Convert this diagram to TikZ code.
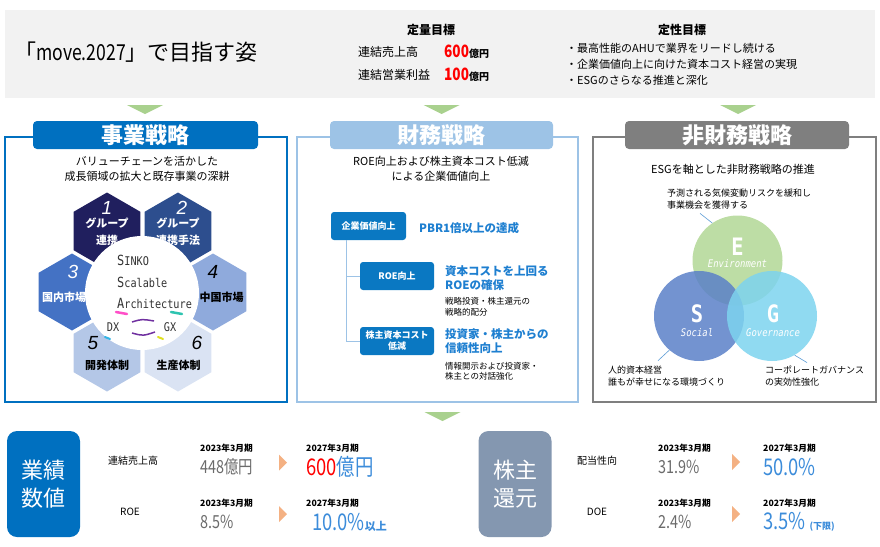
\documentclass[tikz,border=0pt]{standalone}
\usepackage{fontspec}
\setmainfont{Noto Sans CJK JP}
\newfontfamily\numfont[FakeStretch=0.8]{Noto Sans CJK JP}
\newfontfamily\sinkofont[FakeStretch=0.85]{DejaVu Sans Mono}
\newfontfamily\hexnumfont{Liberation Sans}
\usetikzlibrary{positioning,calc,shapes.geometric}

\definecolor{bannergray}{HTML}{F2F2F2}
\definecolor{arrowgreen}{HTML}{A9D18E}
\definecolor{bizblue}{HTML}{0070C0}
\definecolor{finblue}{HTML}{9DC3E6}
\definecolor{nonfingray}{HTML}{7F7F7F}
\definecolor{boxblue}{HTML}{0A78C2}
\definecolor{textblue}{HTML}{1E7FD0}
\definecolor{numblue}{HTML}{3C8CDA}
\definecolor{numgray}{HTML}{6B6B6B}
\definecolor{retgray}{HTML}{8497B0}
\definecolor{tiporange}{HTML}{F4B183}
\definecolor{hexone}{HTML}{201F5E}
\definecolor{hextwo}{HTML}{2D4E8E}
\definecolor{hexthree}{HTML}{4472C4}
\definecolor{hexfour}{HTML}{8FAADC}
\definecolor{hexfive}{HTML}{B4C7E7}
\definecolor{hexsix}{HTML}{DAE3F3}
\definecolor{egreen}{HTML}{B2D795}
\definecolor{sblue}{HTML}{5A80C8}
\definecolor{gcyan}{HTML}{7DD3EE}
\definecolor{leaderblue}{HTML}{5B9BD5}
\definecolor{sinkotext}{HTML}{333333}
\definecolor{dxpink}{HTML}{FF4FC8}
\definecolor{gxteal}{HTML}{2EC4B0}
\definecolor{sacpurple}{HTML}{7030A0}
\definecolor{dxcyan}{HTML}{33B5E5}
\definecolor{gxyellow}{HTML}{E0E020}

\newcommand{\fsize}[2]{\fontsize{#1}{#2}\selectfont}
\newcommand{\sinkoinit}[1]{{\fsize{14}{21.5}#1}}

\begin{document}
\begin{tikzpicture}[x=1pt, y=-1pt,
	every node/.style={inner sep=0pt},
	panelframe/.style={line width=2.5pt},
	tabbox/.style={rounded corners=4pt, minimum height=28pt, text=white, font=\fsize{22}{22}\bfseries},
	hexcell/.style={regular polygon, regular polygon sides=6, shape border rotate=30, minimum size=77pt},
	hexlbl/.style={align=center, font=\fsize{11}{17}\bfseries},
	hexnum/.style={font=\hexnumfont\itshape\fsize{19}{19}},
	subtxt/.style={align=center, font=\fsize{11}{15}},
	valbox/.style={fill=boxblue, rounded corners=3pt, minimum width=75pt, minimum height=28pt, text=white, align=center, font=\fsize{9}{11}\bfseries},
	bluehead/.style={anchor=west, align=left, text=textblue, font=\fsize{11.5}{14}\bfseries},
	smallnote/.style={anchor=west, align=left, font=\fsize{8.5}{10.5}},
	branch/.style={finblue, line width=1pt},
	esg/.style={circle, minimum size=90pt, fill opacity=0.85},
	esgletter/.style={text=white, font=\sinkofont\bfseries\fsize{24}{24}},
	esgword/.style={text=white, font=\sinkofont\itshape\fsize{10.5}{10.5}},
	esgnote/.style={anchor=west, align=left, font=\fsize{9}{12}},
	leader/.style={leaderblue, line width=0.6pt},
	kpibox/.style={rounded corners=10pt, minimum width=73pt, minimum height=106pt, text=white, align=center, font=\fsize{22}{28}},
	rowlbl/.style={font=\fsize{10}{10}},
	yearlbl/.style={anchor=west, font=\fsize{8.7}{9}\bfseries},
	oldval/.style={anchor=west, text=numgray, font=\numfont\fsize{18}{18}},
	newval/.style={anchor=west, text=numblue, font=\numfont\fsize{23}{23}}]

	\useasboundingbox (0,0) rectangle (880,546);

	\fill[bannergray] (5,10) rectangle (875,98);
	\node[anchor=west, font=\fsize{22}{22}] (title) at (14,52) {「{\numfont move.2027}」で目指す姿};
	\node[font=\fsize{12}{12}\bfseries] (quant) at (431,30) {定量目標};
	\node[anchor=west, font=\fsize{12}{12}] (qsales) at (358,52) {連結売上高};
	\node[anchor=west, font=\fsize{12}{12}] (qprofit) at (358,75) {連結営業利益};
	\node[anchor=west] (qsalesv) at (444,52) {{\numfont\bfseries\fsize{17}{17}\color{red}600}{\fsize{10}{10}\bfseries 億円}};
	\node[anchor=west] (qprofitv) at (444,75) {{\numfont\bfseries\fsize{17}{17}\color{red}100}{\fsize{10}{10}\bfseries 億円}};
	\node[font=\fsize{12}{12}\bfseries] (qual) at (682,30) {定性目標};
	\node[anchor=west, font=\fsize{11}{11}] (qual1) at (566,48) {・最高性能のAHUで業界をリードし続ける};
	\node[anchor=west, font=\fsize{11}{11}] (qual2) at (566,64) {・企業価値向上に向けた資本コスト経営の実現};
	\node[anchor=west, font=\fsize{11}{11}] (qual3) at (566,80) {・ESGのさらなる推進と深化};

	\foreach \x/\y in {145/105, 441.5/105, 738/105, 442.5/412}
		\fill[arrowgreen] (\x-18,\y) -- (\x+18,\y) -- (\x,\y+9) -- cycle;

	\draw[panelframe, bizblue] (5,137) rectangle (287,402);
	\draw[panelframe, finblue] (297,137) rectangle (578,402);
	\draw[panelframe, nonfingray] (593,137) rectangle (876,402);
	\node[tabbox, fill=bizblue, minimum width=225pt] (biz) at (145.5,135) {事業戦略};
	\node[tabbox, fill=finblue, minimum width=223pt] (fin) at (441.5,135) {財務戦略};
	\node[tabbox, fill=nonfingray, minimum width=224pt] (nonfin) at (737,135) {非財務戦略};

	\node[subtxt] (bizsub) at (147,168.5) {バリューチェーンを活かした\\成長領域の拡大と既存事業の深耕};
	\node[hexcell, fill=hexone] (h1) at (107,231) {};
	\node[hexcell, fill=hextwo] (h2) at (178,231) {};
	\node[hexcell, fill=hexthree] (h3) at (72,292) {};
	\node[hexcell, fill=hexfour] (h4) at (213,292) {};
	\node[hexcell, fill=hexfive] (h5) at (107,353) {};
	\node[hexcell, fill=hexsix] (h6) at (178,353) {};
	\node[hexnum, text=white] (h1n) at (107,208) {1};
	\node[hexnum, text=white] (h2n) at (182,208) {2};
	\node[hexnum, text=white] (h3n) at (73,272) {3};
	\node[hexnum] (h4n) at (213,272) {4};
	\node[hexnum] (h5n) at (93,343) {5};
	\node[hexnum] (h6n) at (197,343) {6};
	\node[hexlbl, text=white] (h1t) at (107,231.5) {グループ\\連携};
	\node[hexlbl, text=white] (h2t) at (178,231.5) {グループ\\連携手法};
	\node[hexlbl, text=white, anchor=west] (h3t) at (42,297) {国内市場};
	\node[hexlbl] (h4t) at (221.5,297) {中国市場};
	\node[hexlbl] (h5t) at (107,365) {開発体制};
	\node[hexlbl] (h6t) at (178.5,365) {生産体制};
	\node[circle, fill=white, minimum size=114pt] (sac) at (142,293) {};
	\node[anchor=west, align=left, text=sinkotext, font=\sinkofont\fsize{12}{21.5}] (sinko) at (117,282)
		{\sinkoinit{S}INKO\\\sinkoinit{S}calable\\\sinkoinit{A}rchitecture};
	\node[text=sinkotext, font=\sinkofont\fsize{12}{12}] (dx) at (113,327) {DX};
	\node[text=sinkotext, font=\sinkofont\fsize{12}{12}] (gx) at (170,327) {GX};
	\draw[dxpink, line width=2.5pt, line cap=round] (116,312) -- (127,314);
	\draw[gxteal, line width=2.5pt, line cap=round] (171,312) -- (182,314);
	\draw[sacpurple, line width=1.5pt] (132,322) .. controls (142,319) .. (154,321);
	\draw[sacpurple, line width=1.5pt] (132,333) .. controls (143,336) .. (155,332);
	\draw[dxcyan, line width=2pt, line cap=round] (105,337) -- (110,339);
	\draw[gxyellow, line width=2pt, line cap=round] (158,337) -- (163,339);

	\node[subtxt] (finsub) at (441,168.5) {ROE向上および株主資本コスト低減\\による企業価値向上};
	\node[valbox] (evbox) at (368.5,226) {企業価値向上};
	\node[valbox, minimum width=74pt] (roebox) at (397,276) {ROE向上};
	\node[valbox, minimum width=74pt] (costbox) at (397,341) {株主資本コスト\\低減};
	\draw[branch] ([xshift=16pt]evbox.south west) |- (roebox.west);
	\draw[branch] ([xshift=16pt]evbox.south west) |- (costbox.west);
	\node[bluehead] (pbr) at (419,228) {PBR1倍以上の達成};
	\node[bluehead] (roehead) at (445,278) {資本コストを上回る\\ROEの確保};
	\node[smallnote] (roenote) at (445,307) {戦略投資・株主還元の\\戦略的配分};
	\node[bluehead] (costhead) at (445,341) {投資家・株主からの\\信頼性向上};
	\node[smallnote] (costnote) at (445,371.5) {情報開示および投資家・\\株主との対話強化};

	\node[subtxt] (nonfinsub) at (733,169) {ESGを軸とした非財務戦略の推進};
	\node[esg, fill=egreen] (e) at (737.5,260.5) {};
	\node[esg, fill=sblue] (s) at (699,316) {};
	\node[esg, fill=gcyan] (g) at (772,316) {};
	\node[esgletter] (el) at (737.5,247) {E};
	\node[esgword] (ew) at (737.5,264) {Environment};
	\node[esgletter] (sl) at (697,314) {S};
	\node[esgword] (sw) at (697,333) {Social};
	\node[esgletter] (gl) at (773,314) {G};
	\node[esgword] (gw) at (773,333) {Governance};
	\node[esgnote] (etxt) at (667,199) {予測される気候変動リスクを緩和し\\事業機会を獲得する};
	\node[esgnote] (stxt) at (608,376) {人的資本経営\\誰もが幸せになる環境づくり};
	\node[esgnote] (gtxt) at (765,376) {コーポレートガバナンス\\の実効性強化};
	\draw[leader] ([shift={(33pt,-4pt)}]etxt.south west) -- (e.124);
	\draw[leader] (s.229) -- ([shift={(50pt,5pt)}]stxt.north west);
	\draw[leader] (g.300) -- ([shift={(42pt,3pt)}]gtxt.north west);

	\node[kpibox, fill=bizblue] (perf) at (43.5,484) {業績\\数値};
	\node[rowlbl] (sales) at (133,461) {連結売上高};
	\node[rowlbl] (roe) at (130,512) {ROE};
	\node[yearlbl] (sales23y) at (200,448) {2023年3月期};
	\node[oldval] (sales23) at (200,467) {448億円};
	\node[yearlbl] (sales27y) at (306,448) {2027年3月期};
	\node[newval] (sales27) at (306,467) {{\color{red}600}億円};
	\node[yearlbl] (roe23y) at (200,503) {2023年3月期};
	\node[oldval] (roe23) at (200,522) {8.5\%};
	\node[yearlbl] (roe27y) at (306,503) {2027年3月期};
	\node[newval] (roe27) at (312,522) {10.0\%{\normalfont\bfseries\fsize{11}{11}以上}};

	\node[kpibox, fill=retgray] (ret) at (515,484) {株主\\還元};
	\node[rowlbl] (payout) at (597,461) {配当性向};
	\node[rowlbl] (doe) at (597,512) {DOE};
	\node[yearlbl] (pay23y) at (658,448) {2023年3月期};
	\node[oldval] (pay23) at (658,467) {31.9\%};
	\node[yearlbl] (pay27y) at (763,448) {2027年3月期};
	\node[newval] (pay27) at (763,467) {50.0\%};
	\node[yearlbl] (doe23y) at (658,503) {2023年3月期};
	\node[oldval] (doe23) at (658,522) {2.4\%};
	\node[yearlbl] (doe27y) at (763,503) {2027年3月期};
	\node[newval] (doe27) at (763,522) {3.5\%\,{\normalfont\bfseries\fsize{9}{9}(下限)}};

	\foreach \x/\y in {279/462.5, 279/514, 732/462, 732/514}
		\fill[tiporange] (\x,\y-8) -- (\x+8,\y) -- (\x,\y+8) -- cycle;
\end{tikzpicture}
\end{document}
